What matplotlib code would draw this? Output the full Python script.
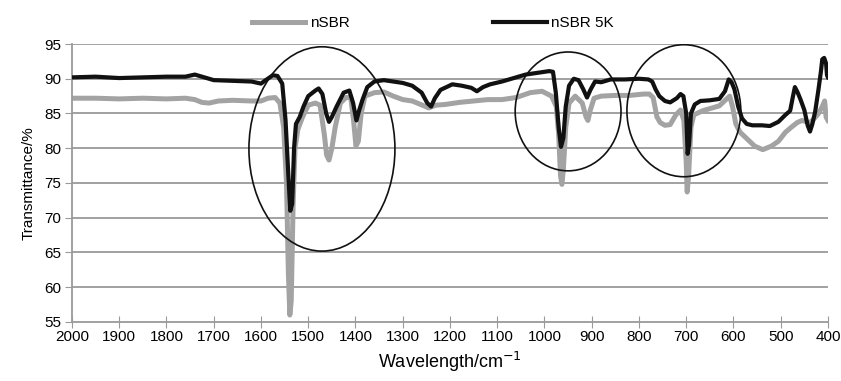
"""
    FTIR spektra nSBR a nSBR 5K
"""
import matplotlib
matplotlib.use("Agg")
import matplotlib.pyplot as plt
from matplotlib.patches import Ellipse

# nSBR (šedá křivka)
nsbr_wn = [2000, 1950, 1900, 1850, 1800, 1760, 1740, 1725, 1710, 1690, 1660, 1620,
           1600, 1585, 1570, 1560, 1552, 1546, 1542, 1539, 1536, 1532, 1528, 1522,
           1512, 1500, 1485, 1475, 1466, 1461, 1456, 1450, 1443, 1432, 1420, 1410,
           1404, 1399, 1394, 1388, 1380, 1360, 1340, 1320, 1300, 1280, 1262, 1245,
           1230, 1210, 1180, 1150, 1120, 1090, 1060, 1030, 1005, 985, 975, 970,
           966, 963, 960, 955, 948, 935, 920, 912, 908, 903, 895, 880, 850, 820,
           790, 778, 770, 762, 755, 745, 734, 722, 712, 705, 700, 698, 695, 690,
           684, 665, 645, 630, 616, 608, 602, 595, 586, 572, 555, 538, 520, 505,
           490, 478, 465, 455, 445, 438, 430, 420, 412, 407, 404, 400]
nsbr_t = [87.2, 87.2, 87.1, 87.2, 87.1, 87.2, 87.0, 86.6, 86.5, 86.8, 86.9, 86.8,
          86.8, 87.2, 87.3, 86.5, 83.0, 75.0, 62.0, 56.0, 58.0, 72.0, 80.0, 82.7,
          84.5, 86.2, 86.5, 86.2, 82.0, 79.0, 78.3, 80.0, 83.0, 86.5, 87.3, 87.3,
          84.0, 80.3, 81.0, 85.0, 87.5, 88.0, 88.1, 87.5, 87.0, 86.8, 86.3, 85.8,
          86.2, 86.3, 86.6, 86.8, 87.0, 87.0, 87.3, 88.0, 88.2, 87.5, 86.0, 82.0,
          76.0, 74.8, 77.0, 83.0, 86.5, 87.5, 86.5, 84.5, 84.0, 85.5, 87.2, 87.5,
          87.6, 87.6, 87.8, 87.8, 87.3, 84.5, 83.7, 83.3, 83.4, 84.8, 85.5, 84.0,
          78.0, 73.7, 76.0, 83.0, 84.8, 85.4, 85.8, 86.1, 87.0, 87.5, 86.0, 83.5,
          82.3, 81.4, 80.3, 79.8, 80.3, 81.0, 82.3, 83.0, 83.7, 84.0, 83.8, 83.7,
          84.2, 85.0, 86.0, 86.8, 84.5, 84.0]

# nSBR 5K (černá křivka)
nsbr5k_wn = [2000, 1950, 1900, 1850, 1800, 1760, 1740, 1720, 1700, 1660, 1620, 1600,
             1590, 1575, 1565, 1555, 1548, 1542, 1538, 1534, 1530, 1526, 1518, 1510,
             1500, 1485, 1478, 1470, 1462, 1456, 1450, 1440, 1425, 1413, 1405, 1398,
             1392, 1385, 1375, 1360, 1340, 1300, 1280, 1260, 1248, 1240, 1232, 1220,
             1195, 1175, 1155, 1143, 1130, 1115, 1090, 1065, 1040, 1020, 990, 982,
             976, 970, 965, 960, 955, 948, 938, 928, 918, 910, 902, 893, 880, 860,
             830, 800, 780, 772, 765, 757, 745, 734, 720, 712, 706, 700, 697, 694,
             690, 682, 670, 650, 630, 618, 610, 604, 598, 590, 582, 572, 560, 540,
             523, 505, 490, 480, 474, 470, 464, 458, 450, 443, 438, 433, 427, 420,
             415, 412, 408, 404, 402, 400]
nsbr5k_t = [90.2, 90.3, 90.1, 90.2, 90.3, 90.3, 90.6, 90.2, 89.8, 89.7, 89.6, 89.3,
            89.8, 90.5, 90.4, 89.3, 84.0, 76.0, 71.0, 72.0, 80.0, 83.5, 84.5, 86.0,
            87.5, 88.3, 88.6, 87.8, 85.0, 83.8, 84.5, 86.0, 88.0, 88.3, 86.5, 84.0,
            85.5, 87.0, 88.8, 89.6, 89.8, 89.4, 89.0, 88.0, 86.5, 86.0, 87.2, 88.4,
            89.2, 89.0, 88.7, 88.2, 88.8, 89.2, 89.6, 90.1, 90.6, 90.8, 91.1, 91.0,
            88.0, 83.0, 80.2, 81.5, 86.0, 89.0, 90.0, 89.8, 88.5, 87.3, 88.5, 89.6,
            89.5, 89.9, 89.9, 90.0, 89.9, 89.6, 88.5, 87.5, 86.8, 86.6, 87.2, 87.8,
            87.5, 85.0, 79.2, 80.5, 85.0, 86.3, 86.8, 86.9, 87.1, 88.2, 89.9, 89.5,
            88.5, 86.0, 84.3, 83.5, 83.3, 83.3, 83.2, 83.8, 84.8, 85.4, 87.5, 88.8,
            88.0, 87.0, 85.5, 83.3, 82.4, 83.5, 85.3, 88.5, 91.0, 92.8, 93.0, 92.2,
            90.5, 90.2]

# Zvýrazněné oblasti (střed x, střed y, šířka, výška)
regions = [
    (1471, 79.9, 309, 29.4),
    (950, 85.3, 224, 17.1),
    (705, 85.4, 241, 19.0),
]

x_ticks = list(range(2000, 399, -100))
y_ticks = list(range(55, 96, 5))


def main():
    """
        Hlavní funkce programu
    """
    plt.rcParams["font.family"] = ["Liberation Sans", "DejaVu Sans"]

    fig = plt.figure(figsize=(8.41, 3.81), dpi=100)
    ax = fig.add_axes([0.0856, 0.1549, 0.8989, 0.7296])

    grid_color = "#9a9a9a"
    for y in y_ticks[1:]:
        ax.axhline(y, color=grid_color, linewidth=1.3, zorder=1)

    ax.plot(nsbr_wn, nsbr_t, color="#a3a3a3", linewidth=3.6,
            solid_joinstyle="round", label="nSBR", zorder=2)
    ax.plot(nsbr5k_wn, nsbr5k_t, color="#111111", linewidth=3.0,
            solid_joinstyle="round", label="nSBR 5K", zorder=3)

    for (cx, cy, w, h) in regions:
        ax.add_patch(Ellipse((cx, cy), w, h, fill=False, edgecolor="#111111",
                             linewidth=1.2, zorder=4))

    ax.set_xlim(2000, 400)
    ax.set_ylim(55, 95)
    ax.set_xticks(x_ticks)
    ax.set_yticks(y_ticks)
    ax.tick_params(axis="x", direction="inout", length=8, color=grid_color,
                   labelsize=11, pad=2)
    ax.tick_params(axis="y", direction="out", length=5, color=grid_color,
                   labelsize=11, pad=3)

    for side in ("top", "right"):
        ax.spines[side].set_visible(False)
    for side in ("left", "bottom"):
        ax.spines[side].set_color(grid_color)
        ax.spines[side].set_linewidth(1.3)

    ax.set_ylabel("Transmittance/%", fontsize=11, labelpad=6)
    ax.set_xlabel("Wavelength/cm$^{-1}$", fontsize=13, labelpad=4)

    ax.legend(loc="center left", bbox_to_anchor=(0.238, 1.0755), ncol=2,
              frameon=False, fontsize=11, handlelength=3.5, handletextpad=0.3,
              columnspacing=9.4, borderpad=0, borderaxespad=0)

    fig.savefig("out.png", dpi=100)


if __name__ == "__main__":
    main()
